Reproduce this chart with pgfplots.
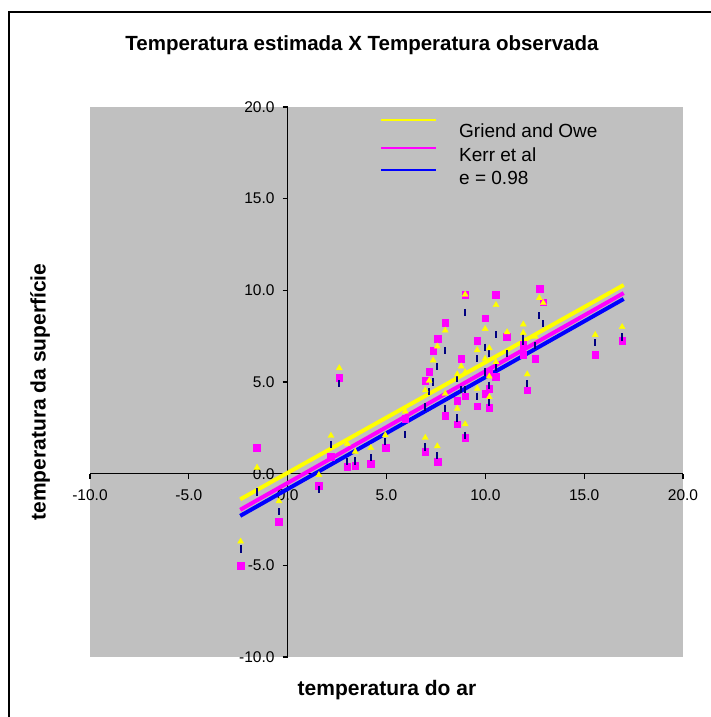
\documentclass[border=0pt]{standalone}
\usepackage{fontspec}
\setmainfont{Liberation Sans}
\usepackage{pgfplots}
\pgfplotsset{compat=1.18}
\definecolor{plotgrey}{RGB}{192,192,192}
\definecolor{dashnavy}{RGB}{0,0,128}
\definecolor{xlyellow}{RGB}{255,255,0}
\definecolor{xlmagenta}{RGB}{255,0,255}
\definecolor{xlblue}{RGB}{0,0,255}

% x, Griend and Owe (T), e = 0.98 (D), Kerr et al (S)
\pgfplotstableread{
x      T      D      S
-2.38  -3.70  -4.11  -5.00
-1.55   0.33  -1.00   1.41
-0.44  -1.50  -2.07  -2.61
 1.58  -0.07  -0.85  -0.65
 2.19   2.07   1.59   0.92
 2.61   5.76   4.91   5.22
 3.01   1.63   0.65   0.38
 3.42   1.20   0.69   0.43
 4.21   1.40   0.87   0.53
 4.94   2.10   1.74   1.40
 5.95   3.40   2.14   3.00
 6.96   1.96   1.45   1.18
 6.96   4.55   3.64   5.07
 7.16   5.07   4.50   5.54
 7.36   6.18   5.00   6.72
 7.57   6.94   5.85   7.38
 7.57   1.50   0.98   0.65
 7.97   7.81   6.72   8.24
 7.97   4.36   3.55   3.14
 8.58   3.55   3.04   2.70
 8.58   5.42   5.18   4.00
 8.78   5.85   4.60   6.29
 8.98   9.77   8.79   9.77
 8.98   2.70   2.10   1.94
 8.98   5.53   4.60   4.22
 9.59   6.74   6.27   7.27
 9.59   4.64   4.22   3.68
 9.99   7.90   6.90   8.48
 9.99   6.27   5.54   4.36
10.20   6.85   6.54   5.50
10.20   4.18   3.91   3.59
10.20   5.30   4.82   4.64
10.54   9.20   7.59   9.77
10.54   6.09   5.82   5.31
11.10   7.72   6.54   7.48
11.92   8.14   7.45   7.03
11.92   7.68   7.20   6.48
12.12   5.42   4.91   4.55
12.52   7.48   6.99   6.29
12.73   9.58   8.62  10.10
12.93   9.31   8.17   9.35
15.56   7.57   7.14   6.50
16.92   8.00   7.45   7.27
}\obs

\begin{document}
\begin{tikzpicture}[x=1pt,y=1pt]
\useasboundingbox (0,0) rectangle (710,717);
% outer frame, cut by the page on the right and at the bottom
\draw[line width=2pt] (9,-20) rectangle (730,705);

\begin{axis}[
  at={(90pt,60pt)}, anchor=south west,
  scale only axis, width=593pt, height=550pt,
  xmin=-10, xmax=20, ymin=-10, ymax=20,
  axis lines=middle, axis line style={-,black,line width=1.3pt},
  axis background/.style={fill=plotgrey},
  xtick={-10,-5,...,20}, ytick={-10,-5,...,20},
  hide obscured x ticks=false, hide obscured y ticks=false,
  tick align=outside, major tick length=5pt,
  tick style={black,line width=1.3pt},
  xticklabel style={font=\fontsize{15.5}{17}\selectfont, inner sep=0pt,
    yshift=-10.5pt},
  yticklabel style={font=\fontsize{15.5}{17}\selectfont, inner sep=0pt,
    xshift=-8pt},
  /pgf/number format/.cd, fixed, fixed zerofill, precision=1,
  assume math mode=true,
]
\addplot[only marks, mark=square*, mark size=3.4pt, color=xlmagenta]
  table[x=x, y=S] {\obs};
\addplot[only marks, mark=|, mark size=3.6pt, color=dashnavy,
  mark options={line width=2.2pt}] table[x=x, y=D] {\obs};
\addplot[only marks, mark=triangle*, mark size=3.5pt, color=xlyellow]
  table[x=x, y=T] {\obs};
% fitted lines
\addplot[xlyellow, line width=4pt] coordinates {(-2.4,-1.40) (17,10.29)};
\addplot[xlmagenta, line width=4pt] coordinates {(-2.4,-1.97) (17,9.85)};
\addplot[xlblue, line width=4pt] coordinates {(-2.4,-2.30) (17,9.53)};
\end{axis}

% legend
\draw[xlyellow, line width=2pt] (381,597) -- (436,597);
\draw[xlmagenta, line width=2pt] (381,569) -- (436,569);
\draw[xlblue, line width=2pt] (381,547) -- (436,547);
\begin{scope}[every node/.style={anchor=west, inner sep=0pt,
    font=\fontsize{19}{22}\selectfont}]
\node at (459,586) {Griend and Owe};
\node at (459,562) {Kerr et al};
\node at (459,539) {e = 0.98};
\end{scope}

\node[font=\bfseries\fontsize{20.5}{24}\selectfont] at (362,672)
  {Temperatura estimada X Temperatura observada};
\node[font=\bfseries\fontsize{21}{24}\selectfont] at (387,27)
  {temperatura do ar};
\node[rotate=90, font=\bfseries\fontsize{21}{24}\selectfont] at (40,325)
  {temperatura da superfície};
\end{tikzpicture}
\end{document}
